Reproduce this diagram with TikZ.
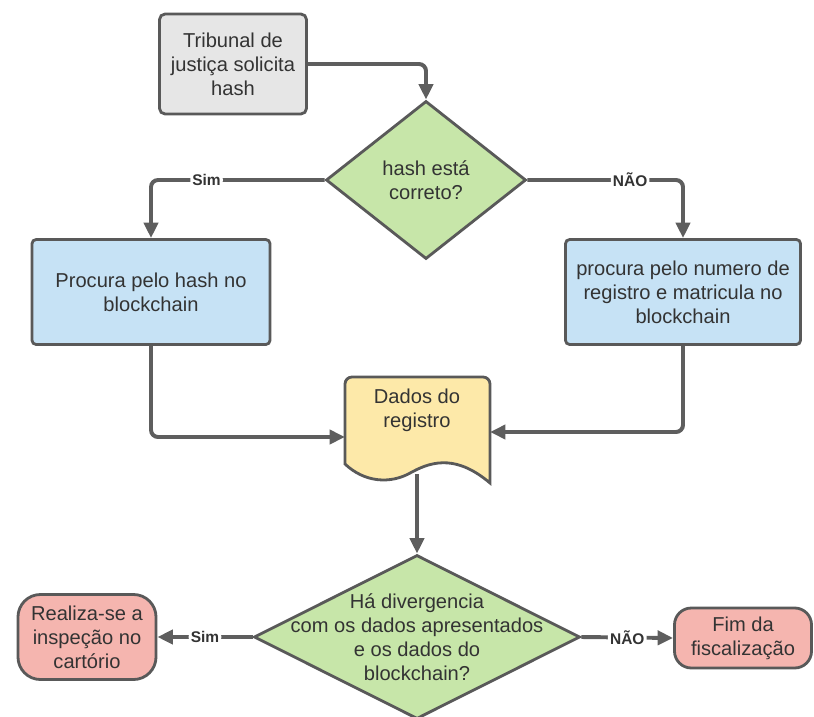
\documentclass[tikz,border=0pt]{standalone}
\usepackage{fontspec}
\setmainfont{Liberation Sans}
\usetikzlibrary{shapes.geometric,arrows.meta}
\definecolor{linegray}{HTML}{595959}
\definecolor{arrowgray}{HTML}{5E5E5E}
\definecolor{textgray}{HTML}{333333}
\definecolor{boxgray}{HTML}{E6E6E6}
\definecolor{boxblue}{HTML}{C6E2F5}
\definecolor{decgreen}{HTML}{C7E6A9}
\definecolor{docyellow}{HTML}{FDE9A9}
\definecolor{endred}{HTML}{F5B5AF}
\tikzset{
    base/.style={draw=linegray, line width=2pt, align=center, text=textgray,
        font=\fontsize{14.3}{17}\selectfont, inner sep=2pt},
    startbox/.style={base, fill=boxgray, rounded corners=4pt,
        minimum width=3.675cm, minimum height=2.5cm},
    procbox/.style={base, fill=boxblue, rounded corners=3pt, minimum height=2.625cm},
    decision/.style={base, diamond, fill=decgreen, inner sep=0pt},
    docbox/.style={draw=linegray, line width=2pt, fill=docyellow},
    endbox/.style={base, fill=endred},
    plain/.style={align=center, text=textgray, font=\fontsize{14.3}{17}\selectfont},
    flow/.style={draw=arrowgray, line width=2.8pt, rounded corners=5pt,
        -{Triangle[length=11pt,width=10pt]}},
    answer/.style={fill=white, text=textgray, inner sep=1.5pt,
        font=\bfseries\fontsize{11}{13}\selectfont},
}

\begin{document}
\begin{tikzpicture}[x=0.025cm, y=-0.025cm]
\useasboundingbox (0,0) rectangle (814,716);

% Start
\node[startbox] (trib) at (233,64) {Tribunal de\\justiça solicita\\hash};

% First check
\node[decision, minimum width=5cm, minimum height=3.95cm,
    label={[plain]center:hash está\\correto?}] (q1) at (426,180) {};

% Look ups
\node[procbox, minimum width=5.95cm] (lbox) at (151,292) {Procura pelo hash no\\blockchain};
\node[procbox, minimum width=5.875cm] (rbox) at (683,292) {procura pelo numero de\\registro e matricula no\\blockchain};

% Document
\draw[docbox] (345,464) [rounded corners=5] -- (345,377) -- (490,377) [sharp corners] -- (490,483)
    .. controls (458,456) and (434,460) .. (412,472)
    .. controls (390,485) and (364,482) .. (345,464) -- cycle;
\node[plain] (dados) at (417,410) {Dados do\\registro};
\coordinate (dadosL) at (345,437);
\coordinate (dadosR) at (490,432);
\coordinate (dadosB) at (417,474);

% Second check
\node[decision, minimum width=8.15cm, minimum height=4.1cm,
    label={[plain]center:Há divergencia\\com os dados apresentados\\e os dados do\\blockchain?}] (q2) at (417,637) {};

% Ends
\node[endbox, rounded corners=16pt, minimum width=3.45cm, minimum height=2.125cm] (lend) at (87,637) {Realiza-se a\\inspeção no\\cartório};
\node[endbox, rounded corners=12pt, minimum width=3.425cm, minimum height=1.5cm] (rend) at (743,638) {Fim da\\fiscalização};

% Arrows
\draw[flow] (trib.east) -| (q1.north);
\draw[flow] (q1.west) -| node[answer, pos=0.34] {Sim} (lbox.north);
\draw[flow] (q1.east) -| node[answer, pos=0.33] {NÃO} (rbox.north);
\draw[flow] (lbox.south) |- (dadosL);
\draw[flow] (rbox.south) |- (dadosR);
\draw[flow] (dadosB) -- (q2.north);
\draw[flow] (q2.west) -- node[answer] {Sim} (lend.east);
\draw[flow] (q2.east) -- node[answer] {NÃO} (rend.west);
\end{tikzpicture}
\end{document}
